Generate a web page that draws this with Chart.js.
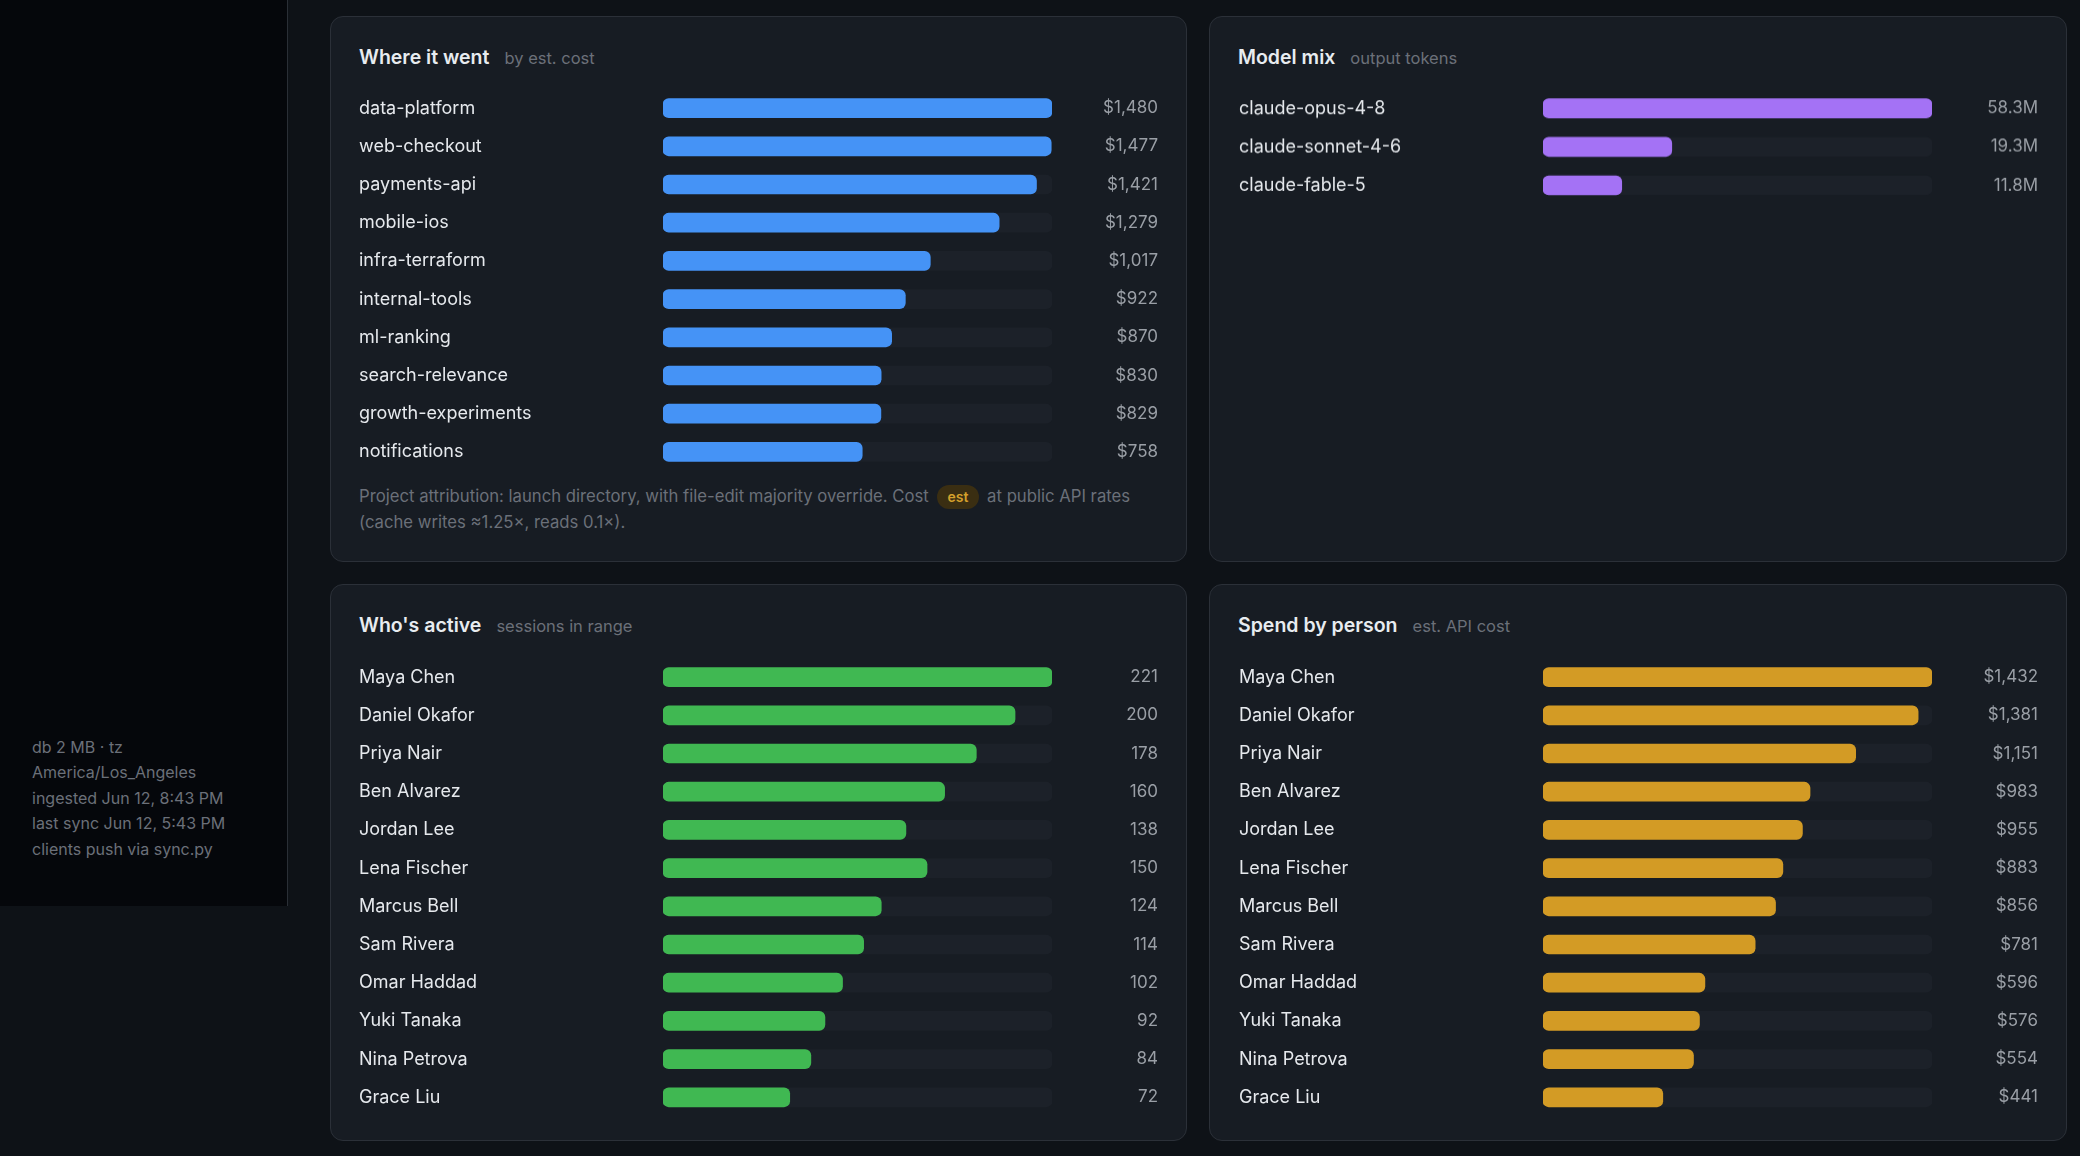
<!DOCTYPE html>
<html>
<head>
<meta charset="utf-8">
<script src="https://cdn.jsdelivr.net/npm/chart.js@4/dist/chart.umd.min.js"></script>
<style>
  html, body { margin: 0; padding: 0; }
  body {
    width: 2080px; height: 1156px; position: relative; overflow: hidden;
    background: #0e1217;
    font-family: Inter, "Noto Sans", sans-serif;
  }
  .side {
    position: absolute; left: 0; top: 0; width: 287px; height: 906px;
    background: #05070b; border-right: 1px solid #2a2f36;
  }
  .side .meta {
    position: absolute; left: 32px; top: 735px;
    color: #6b7079; font-size: 16px; line-height: 25.4px;
  }
  .panel {
    position: absolute; box-sizing: border-box;
    background: #171c23; border: 1px solid #2b3038; border-radius: 13px;
  }
  .head {
    position: absolute; left: 28px; white-space: nowrap;
  }
  .head b { color: #e8ecf0; font-size: 19.5px; font-weight: 600; }
  .head span { color: #6b7079; font-size: 16.5px; margin-left: 15px; }
  .note {
    position: absolute; left: 28px; top: 466px; width: 800px;
    color: #6b7079; font-size: 16.7px; line-height: 26px;
  }
  .pill {
    display: inline-block; background: #3a2e12; color: #d4a12c;
    font-size: 14px; font-weight: 600; line-height: 24px;
    padding: 0 11px; border-radius: 12px; margin: 0 3px;
  }
  .box { position: absolute; }
</style>
</head>
<body>
<div class="side">
  <div class="meta">
    db 2 MB · tz<br>America/Los_Angeles<br>ingested Jun 12, 8:43 PM<br>last sync Jun 12, 5:43 PM<br>clients push via sync.py
  </div>
</div>

<div class="panel" style="left:330px;top:16px;width:857px;height:546px">
  <div class="head" style="top:28px"><b>Where it went</b><span>by est. cost</span></div>
  <div class="note">Project attribution: launch directory, with file-edit majority override. Cost <span class="pill">est</span> at public API rates (cache writes ≈1.25×, reads 0.1×).</div>
</div>
<div class="panel" style="left:1209px;top:16px;width:858px;height:546px">
  <div class="head" style="top:28px"><b>Model mix</b><span>output tokens</span></div>
</div>
<div class="panel" style="left:330px;top:584px;width:857px;height:557px">
  <div class="head" style="top:28px"><b>Who's active</b><span>sessions in range</span></div>
</div>
<div class="panel" style="left:1209px;top:584px;width:858px;height:557px">
  <div class="head" style="top:28px"><b>Spend by person</b><span>est. API cost</span></div>
</div>

<div class="box" style="left:359px;top:89px;width:799px;height:382px"><canvas id="projects"></canvas></div>
<div class="box" style="left:1239px;top:89px;width:799px;height:114.6px"><canvas id="models"></canvas></div>
<div class="box" style="left:359px;top:658px;width:799px;height:458.4px"><canvas id="active"></canvas></div>
<div class="box" style="left:1239px;top:658px;width:799px;height:458.4px"><canvas id="spend"></canvas></div>

<script>
// data
const projects = ["data-platform", "web-checkout", "payments-api", "mobile-ios", "infra-terraform",
  "internal-tools", "ml-ranking", "search-relevance", "growth-experiments", "notifications"];
const projectCost = [1480, 1477, 1421, 1279, 1017, 922, 870, 830, 829, 758];

const models = ["claude-opus-4-8", "claude-sonnet-4-6", "claude-fable-5"];
const modelTokensM = [58.3, 19.3, 11.8];

const people = ["Maya Chen", "Daniel Okafor", "Priya Nair", "Ben Alvarez", "Jordan Lee", "Lena Fischer",
  "Marcus Bell", "Sam Rivera", "Omar Haddad", "Yuki Tanaka", "Nina Petrova", "Grace Liu"];
const sessions = [221, 200, 178, 160, 138, 150, 124, 114, 102, 92, 84, 72];
const personCost = [1432, 1381, 1151, 983, 955, 883, 856, 781, 596, 576, 554, 441];

const TRACK = "#1c2129";
const FONT = "Inter, 'Noto Sans', sans-serif";

function dollars(v) { return "$" + v.toLocaleString("en-US"); }
function millions(v) { return v.toFixed(1) + "M"; }
function plain(v) { return String(v); }

// fixed gutter widths so every panel lines up the same
function fixWidth(w) {
  return function (s) {
    s.width = w;
    s.paddingTop = 0;
    s.paddingBottom = 0;
  };
}

function barPanel(id, labels, values, color, fmt) {
  var top = Math.max.apply(null, values),
    track = values.map(function () { return top; }),
    bar = { borderRadius: 6, borderSkipped: false, barThickness: 19, grouped: false };
  return new Chart(document.getElementById(id), {
    type: "bar",
    data: {
      labels: labels,
      datasets: [
        Object.assign({ data: values, backgroundColor: color, order: 0 }, bar),
        Object.assign({ data: track, backgroundColor: TRACK, order: 1 }, bar),
      ],
    },
    options: {
      indexAxis: "y",
      responsive: true,
      maintainAspectRatio: false,
      animation: false,
      layout: { padding: 0 },
      plugins: { legend: { display: false }, tooltip: { enabled: false } },
      scales: {
        x: { display: false, min: 0, max: top },
        y: {
          position: "left",
          grid: { display: false },
          border: { display: false },
          ticks: { crossAlign: "far", padding: 0, color: "#e6e9ed", font: { family: FONT, size: 18 } },
          afterFit: fixWidth(304),
        },
        y2: {
          type: "category",
          labels: values.map(fmt),
          position: "right",
          offset: true,
          grid: { display: false, offset: true },
          border: { display: false },
          ticks: { crossAlign: "far", padding: 0, color: "#9a9fa6", font: { family: FONT, size: 17 } },
          afterFit: fixWidth(106),
        },
      },
    },
  });
}

barPanel("projects", projects, projectCost, "#4593f6", dollars);
barPanel("models", models, modelTokensM, "#a472f5", millions);
barPanel("active", people, sessions, "#40b852", plain);
barPanel("spend", people, personCost, "#d39b25", dollars);
</script>
</body>
</html>
